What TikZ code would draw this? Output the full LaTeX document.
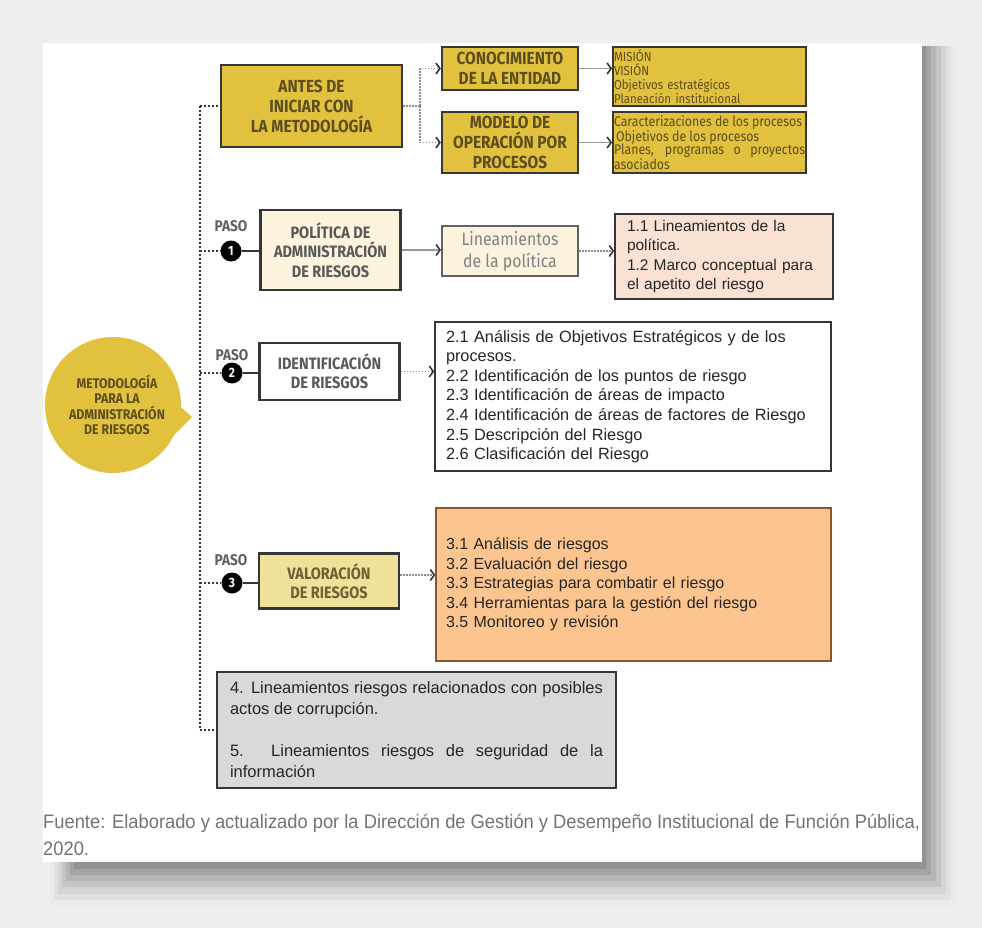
\documentclass[tikz,border=0pt]{standalone}
\usepackage{fontspec}
\setmainfont{Liberation Sans}
\newfontfamily\headfont[FakeStretch=0.88]{Fira Sans}
\newfontfamily\capfont[FakeStretch=0.94]{Liberation Sans}
\usetikzlibrary{arrows.meta}
\setlength\parindent{0pt}
\hyphenpenalty=10000
\exhyphenpenalty=10000

\definecolor{bggray}{HTML}{EEEEEE}
\definecolor{edge}{HTML}{363636}
\definecolor{mustard}{HTML}{E2C13F}
\definecolor{olive}{HTML}{5C4E1E}
\definecolor{cream}{HTML}{FBF3DD}
\definecolor{peach}{HTML}{F9E1D3}
\definecolor{sand}{HTML}{F0E19A}
\definecolor{apricot}{HTML}{FCC590}
\definecolor{boxgray}{HTML}{D9D9D9}

\tikzset{
  box/.style={draw=edge, line width=2.2pt, inner sep=0pt, align=center},
  yellowbox/.style={box, fill=mustard, text=olive,
    font=\headfont\bfseries\fontsize{17.5}{20}\selectfont},
  stepbox/.style={box, minimum width=140, font=\headfont\bfseries\fontsize{16.5}{19.5}\selectfont},
  smallbox/.style={draw=edge, line width=1.8pt, fill=mustard, text=olive, inner xsep=1pt,
    inner ysep=0pt, align=left, font=\headfont\fontsize{13}{14}\selectfont},
  listbox/.style={draw=edge, line width=1.5pt, inner ysep=0pt, align=left,
    text=black!85, font=\fontsize{16}{19.6}\selectfont},
  spine/.style={draw=edge, line width=2.2pt, dash pattern=on 2pt off 2pt},
  dotlink/.style={draw=black!45, line width=1.4pt, dash pattern=on 1.6pt off 1.4pt},
  link/.style={draw=black!40, line width=1.8pt},
  pasonum/.style={circle, fill=black, text=white, minimum size=21, inner sep=0pt,
    font=\headfont\bfseries\fontsize{13.5}{13.5}\selectfont},
  pasolabel/.style={text=black!62, font=\headfont\bfseries\fontsize{15.5}{15.5}\selectfont},
}

\begin{document}
\begin{tikzpicture}[x=1pt, y=-1pt,
    >={Straight Barb[length=4pt,width=11pt,line width=1.6pt,color=edge]}]
  % page, card and its shadow
  \fill[bggray] (0,0) rectangle (982,928);
  \foreach \s/\g in {32/8, 27/12, 22/17, 17/23, 12/29, 7/36, 2/43}
    \fill[black!\g] (76-0.8*\s,46) rectangle (924+\s,866+1.25*\s);
  \fill[white] (43,43) rectangle (922,862);
  \useasboundingbox (0,0) rectangle (982,928);

  % central theme
  \node[circle, fill=mustard, minimum size=136, inner sep=0pt] (metodo) at (113,405) {};
  \fill[mustard] (metodo.-2) -- (192,417) -- (metodo.-26) -- cycle;
  \node[align=center, text=olive, font=\headfont\bfseries\fontsize{14}{15.5}\selectfont]
    (metodotxt) at (117,405) {METODOLOGÍA\\PARA LA\\ADMINISTRACIÓN\\DE RIESGOS};

  % before starting
  \node[yellowbox, minimum width=181, minimum height=82] (antes) at (311.5,106)
    {ANTES DE\\INICIAR CON\\LA METODOLOGÍA};
  \node[yellowbox, minimum width=136, minimum height=43] (conoc) at (510,68.5)
    {CONOCIMIENTO\\DE LA ENTIDAD};
  \node[yellowbox, minimum width=136, minimum height=61] (modelo) at (510,142.5)
    {MODELO DE\\OPERACIÓN POR\\PROCESOS};
  \node[smallbox, minimum width=193, minimum height=59, text width=191] (mision) at (709.5,76.5)
    {MISIÓN\\VISIÓN\\Objetivos estratégicos\\Planeación institucional};
  \node[smallbox, minimum width=193, minimum height=61, text width=191, align=justify,
    font=\headfont\fontsize{14}{13.6}\selectfont] (procesos) at (709.5,142.5)
    {Caracterizaciones de los procesos\\\hspace*{2pt}Objetivos de los procesos\\Planes, programas o proyectos asociados};

  % step 1
  \node[pasolabel] (paso1lbl) at (231,226) {PASO};
  \node[pasonum] (paso1) at (231,251) {1};
  \node[stepbox, fill=cream, text=black!65, minimum height=80] (politica) at (330.5,250)
    {POLÍTICA DE\\ADMINISTRACIÓN\\DE RIESGOS};
  \node[box, draw=black!62, line width=2pt, fill=cream, text=black!50, minimum width=136,
    minimum height=50, font=\headfont\fontsize{18}{22}\selectfont] (linea) at (510,251)
    {Lineamientos\\de la política};
  \node[listbox, fill=peach, minimum width=218, minimum height=85, inner xsep=12pt,
    text width=194, font=\fontsize{15.5}{19.5}\selectfont] (pol11) at (724,256.5)
    {1.1 Lineamientos de la\\política.\\1.2 Marco conceptual para\\el apetito del riesgo};

  % step 2
  \node[pasolabel] (paso2lbl) at (232,355) {PASO};
  \node[pasonum] (paso2) at (232,373) {2};
  \node[stepbox, fill=white, text=black!65, minimum height=57] (ident) at (329.5,371.5)
    {IDENTIFICACIÓN\\DE RIESGOS};
  \node[listbox, fill=white, minimum width=396, minimum height=149, inner xsep=11pt,
    text width=374, font=\fontsize{16.3}{19.6}\selectfont] (ident21) at (633,396.5)
    {2.1 Análisis de Objetivos Estratégicos y de los\\procesos.\\
     2.2 Identificación de los puntos de riesgo\\
     2.3 Identificación de áreas de impacto\\
     2.4 Identificación de áreas de factores de Riesgo\\
     2.5 Descripción del Riesgo\\
     2.6 Clasificación del Riesgo};

  % step 3
  \node[pasolabel] (paso3lbl) at (231,560) {PASO};
  \node[pasonum] (paso3) at (232,583) {3};
  \node[stepbox, fill=sand, text=olive!90, minimum height=55] (valor) at (329,581)
    {VALORACIÓN\\DE RIESGOS};
  \node[listbox, draw=brown!70!black, fill=apricot, minimum width=395, minimum height=153,
    inner xsep=10pt, text width=375] (valor31) at (633.5,584.5)
    {3.1 Análisis de riesgos\\
     3.2 Evaluación del riesgo\\
     3.3 Estrategias para combatir el riesgo\\
     3.4 Herramientas para la gestión del riesgo\\
     3.5 Monitoreo y revisión};

  % further guidelines
  \node[listbox, line width=2.2pt, fill=boxgray, minimum width=399, minimum height=116,
    inner xsep=13pt, text width=373, align=justify, font=\fontsize{16.5}{21}\selectfont]
    (corrup) at (416.5,730)
    {4. Lineamientos riesgos relacionados con posibles actos de corrupción.\par\vspace{21pt}
     5. Lineamientos riesgos de seguridad de la información};

  % spine and branches
  \coordinate (spinetop) at (200,106);
  \coordinate (spinebot) at (200,730);
  \coordinate (fork) at (420,106);
  \draw[spine] (spinetop) -- (spinebot);
  \draw[spine] (spinetop) -- (antes.west);
  \draw[spine] (spinebot) -- (corrup.west);
  \foreach \p in {paso1, paso2, paso3}
    \draw[spine] (\p -| spinetop) -- (\p.west);
  \draw[edge, line width=2.2pt] (paso1) -- (politica.west |- paso1);
  \draw[edge, line width=2.2pt] (paso2) -- (ident.west |- paso2);
  \draw[edge, line width=2.2pt] (paso3) -- (valor.west |- paso3);

  % connectors
  \draw[dotlink] (antes.east) -- (fork);
  \draw[dotlink, ->] (fork) |- (conoc.west);
  \draw[dotlink, ->] (fork) |- (modelo.west);
  \draw[link, ->] (conoc.east) -- (conoc.east -| mision.west);
  \draw[link, ->] (modelo.east) -- (procesos.west);
  \draw[link, ->] (politica.east) -- (politica.east -| linea.west);
  \draw[dotlink, ->] (linea.east) -- (linea.east -| pol11.west);
  \draw[dotlink, ->] (ident.east) -- (ident.east -| ident21.west);
  \draw[dotlink, ->] ([yshift=6]valor.east) -- ([yshift=6]valor.east -| valor31.west);

  % source
  \node[anchor=north west, align=left, text=black!55, inner sep=0pt,
    font=\capfont\fontsize{19.5}{27}\selectfont] (fuente) at (43,814)
    {Fuente: Elaborado y actualizado por la Dirección de Gestión y Desempeño Institucional de Función Pública,\\2020.};
\end{tikzpicture}
\end{document}
